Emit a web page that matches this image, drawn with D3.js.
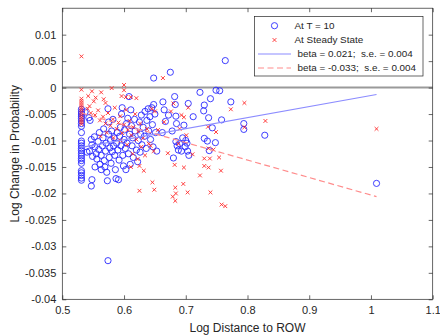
<!DOCTYPE html>
<html><head><meta charset="utf-8">
<script src="https://cdn.jsdelivr.net/npm/d3@7"></script>
<style>body{margin:0;background:#fff}svg{display:block;font-family:"Liberation Sans",Arial,sans-serif}</style>
</head><body><svg id="c" width="440" height="336"></svg>
<script>
const xTicks = [0.5,0.6,0.7,0.8,0.9,1,1.1];
const xTickLabels = ["0.5","0.6","0.7","0.8","0.9","1","1.1"];
const yTicks = [-0.04,-0.035,-0.03,-0.025,-0.02,-0.015,-0.01,-0.005,0,0.005,0.01];
const yTickLabels = ["-0.04","-0.035","-0.03","-0.025","-0.02","-0.015","-0.01","-0.005","0","0.005","0.01"];
const legendLabels = ["At T = 10","At Steady State","beta = 0.021;  s.e. = 0.004","beta = -0.033;  s.e. = 0.004"];

const t10 = [
[0.531,-0.0041],[0.531,-0.0046],[0.531,-0.0050],[0.531,-0.0054],[0.531,-0.0058],[0.531,-0.0063],[0.531,-0.0068],[0.531,-0.0073],[0.531,-0.0085],[0.531,-0.0101],[0.531,-0.0105],[0.531,-0.0110],[0.531,-0.0115],[0.531,-0.0119],[0.531,-0.0124],[0.531,-0.0129],[0.531,-0.0134],[0.531,-0.0138],[0.531,-0.0143],[0.531,-0.0157],[0.531,-0.0161],[0.531,-0.0166],[0.531,-0.0171],[0.531,-0.0175],
[0.537,-0.0046],[0.543,-0.0057],[0.545,-0.0062],[0.540,-0.0122],[0.544,-0.0120],[0.548,-0.0108],[0.547,-0.0098],[0.549,-0.0130],[0.552,-0.0093],[0.553,-0.0112],[0.555,-0.0125],[0.553,-0.0150],[0.548,-0.0174],[0.547,-0.0186],[0.556,-0.0135],[0.558,-0.0102],[0.560,-0.0085],[0.559,-0.0117],[0.561,-0.0145],[0.563,-0.0155],
[0.563,-0.0128],[0.565,-0.0110],[0.566,-0.0095],[0.567,-0.0078],[0.568,-0.0138],[0.569,-0.0150],[0.570,-0.0120],[0.571,-0.0105],[0.572,-0.0160],[0.573,-0.0176],[0.574,-0.0040],[0.575,-0.0065],[0.575,-0.0088],[0.576,-0.0132],[0.577,-0.0114],[0.578,-0.0100],[0.579,-0.0143],[0.580,-0.0082],[0.581,-0.0121],[0.582,-0.0060],[0.583,-0.0110],[0.584,-0.0095],[0.585,-0.0128],[0.586,-0.0155],[0.587,-0.0172],[0.588,-0.0105],[0.589,-0.0085],[0.590,-0.0118],[0.591,-0.0174],[0.592,-0.0137],
[0.593,-0.0092],[0.594,-0.0075],[0.595,-0.0110],[0.596,-0.0050],[0.597,-0.0038],[0.598,-0.0128],[0.599,-0.0148],[0.600,-0.0098],[0.601,-0.0080],[0.602,-0.0115],[0.603,-0.0155],[0.604,-0.0068],[0.605,-0.0105],[0.606,-0.0058],[0.607,-0.0125],[0.608,-0.0017],[0.609,-0.0088],[0.610,-0.0145],[0.611,-0.0042],[0.612,-0.0072],[0.613,-0.0110],[0.614,-0.0095],[0.615,-0.0132],[0.617,-0.0060],[0.618,-0.0082],[0.620,-0.0118],[0.622,-0.0140],[0.623,-0.0100],[0.625,-0.0065],[0.626,-0.0122],[0.627,-0.0088],[0.628,-0.0052],[0.629,-0.0108],
[0.631,-0.0075],[0.633,-0.0092],[0.634,-0.0045],[0.636,-0.0115],[0.637,-0.0062],[0.639,-0.0040],[0.640,-0.0082],[0.642,-0.0055],[0.643,-0.0098],[0.645,-0.0038],[0.646,-0.0070],[0.647,-0.0112],[0.648,0.0018],[0.648,-0.0032],[0.650,-0.0050],[0.651,-0.0085],[0.653,-0.0120],
[0.662,-0.0085],[0.663,-0.0027],[0.665,-0.0042],[0.667,-0.0064],[0.672,-0.0052],[0.675,0.0029],[0.678,-0.0082],[0.680,-0.0133],[0.682,-0.0017],[0.683,-0.0032],[0.684,-0.0054],[0.685,-0.0068],[0.684,-0.0102],[0.686,-0.0110],[0.688,-0.0118],[0.690,-0.0106],[0.693,-0.0120],[0.695,-0.0095],[0.697,-0.0071],[0.699,-0.0112],[0.700,-0.0100],[0.702,-0.0105],[0.703,-0.0120],[0.704,-0.0030],[0.705,-0.0128],[0.712,-0.0055],
[0.723,-0.0009],[0.729,-0.0044],[0.730,-0.0033],[0.730,-0.0096],[0.735,-0.0101],[0.737,-0.0057],[0.738,-0.0119],[0.740,-0.0021],[0.743,-0.0076],[0.748,-0.0104],[0.749,-0.0005],[0.755,-0.0006],[0.758,-0.0061],[0.764,0.0051],[0.773,-0.0027],[0.794,-0.0068],[0.794,-0.0079],[0.828,-0.0090],[1.009,-0.0181],[0.574,-0.0327]
];

const steady = [
[0.531,0.0059],[0.531,-0.0004],[0.531,-0.0021],[0.531,-0.0025],[0.531,-0.0029],[0.531,-0.0033],[0.531,-0.0037],[0.531,-0.0041],[0.531,-0.0045],[0.531,-0.0049],[0.531,-0.0053],[0.531,-0.0057],[0.531,-0.0061],[0.531,-0.0065],[0.531,-0.0069],
[0.542,-0.0016],[0.548,-0.0007],[0.554,-0.0019],[0.544,-0.0035],[0.551,-0.0026],[0.563,-0.0009],[0.567,-0.0022],[0.570,-0.0029],[0.580,-0.0001],[0.600,0.0005],[0.600,-0.0005],[0.596,-0.0016],[0.603,-0.0018],[0.611,-0.0018],[0.620,-0.0020],
[0.541,-0.0040],[0.546,-0.0048],[0.553,-0.0052],[0.558,-0.0043],[0.561,-0.0062],[0.566,-0.0055],[0.570,-0.0068],[0.574,-0.0048],[0.578,-0.0072],[0.582,-0.0060],[0.585,-0.0038],[0.588,-0.0078],[0.591,-0.0066],[0.594,-0.0054],[0.597,-0.0086],[0.600,-0.0070],[0.603,-0.0042],[0.606,-0.0080],[0.609,-0.0063],[0.612,-0.0090],[0.615,-0.0075],[0.618,-0.0050],[0.620,-0.0098],[0.623,-0.0083],[0.626,-0.0068],[0.628,-0.0112],[0.631,-0.0095],[0.634,-0.0128],[0.637,-0.0078],[0.640,-0.0106],[0.643,-0.0110],[0.645,-0.0040],[0.648,-0.0120],[0.650,-0.0045],
[0.562,-0.0092],[0.572,-0.0085],[0.583,-0.0095],[0.594,-0.0100],[0.605,-0.0108],[0.614,-0.0125],[0.622,-0.0135],[0.625,-0.0148],[0.611,-0.0150],[0.632,-0.0157],
[0.663,0.0018],[0.671,-0.0124],[0.676,-0.0045],[0.680,-0.0030],[0.690,-0.0078],[0.693,-0.0052],[0.697,-0.0056],[0.701,-0.0090],[0.704,-0.0038],[0.711,-0.0126],[0.682,-0.0146],[0.697,-0.0151],[0.723,-0.0166],[0.696,-0.0182],[0.646,-0.0179],[0.649,-0.0193],[0.625,-0.0195],[0.683,-0.0189],[0.679,-0.0206],[0.684,-0.0200],[0.683,-0.0214],[0.703,-0.0198],[0.740,-0.0198],[0.758,-0.0221],[0.764,-0.0224],
[0.730,-0.0148],[0.737,-0.0151],[0.757,-0.0157],[0.739,-0.0134],[0.730,-0.0134],[0.754,-0.0132],[0.737,-0.0115],[0.745,-0.0117],[0.736,-0.0074],[0.749,-0.0084],[0.773,-0.0041],[0.795,-0.0029],[0.795,-0.0075],[0.829,-0.0063],[1.009,-0.0078],[0.688,-0.0106],[0.665,-0.0065],[0.655,-0.0080]
];

const fitX = [0.531, 1.009];
const fitT10 = [-0.0113, -0.0013];
const fitSteady = [-0.0048, -0.0206];
const zeroX = [0.5, 1.1];
const zeroY = [0, 0];

const L = 62.3, R = 432.7, T = 8.2, B = 299.3;
const x = d3.scaleLinear().domain([0.5, 1.1]).range([L, R]);
const y = d3.scaleLinear().domain([-0.04, 0.015]).range([B, T]);
const svg = d3.select("#c");
const axCol = "#262626";

svg.append("path").attr("d", d3.line().x(d=>x(d[0])).y(d=>y(d[1]))(zeroX.map((v,i)=>[v, zeroY[i]])))
  .attr("stroke", "#9a9a9a").attr("stroke-width", 2).attr("fill", "none");

svg.append("g").selectAll("circle").data(t10).join("circle")
  .attr("cx", d=>x(d[0])).attr("cy", d=>y(d[1])).attr("r", 3.1)
  .attr("fill", "none").attr("stroke", "#2a2aff").attr("stroke-width", 0.9);

const cs = 1.9;
svg.append("g").selectAll("path").data(steady).join("path")
  .attr("d", d=>{const cx=x(d[0]), cy=y(d[1]); return `M${cx-cs},${cy-cs}L${cx+cs},${cy+cs}M${cx-cs},${cy+cs}L${cx+cs},${cy-cs}`;})
  .attr("stroke", "#ff2a2a").attr("stroke-width", 0.9).attr("fill", "none");

const line = d3.line().x(d=>x(d[0])).y(d=>y(d[1]));
svg.append("path").attr("d", line(fitX.map((v,i)=>[v, fitT10[i]])))
  .attr("stroke", "#8c8cff").attr("stroke-width", 1.2).attr("fill", "none");
svg.append("path").attr("d", line(fitX.map((v,i)=>[v, fitSteady[i]])))
  .attr("stroke", "#ff8c8c").attr("stroke-width", 1.2).attr("fill", "none").attr("stroke-dasharray", "6,3.5");

const ax = svg.append("g");
const tl = 4;
ax.append("g").attr("transform", `translate(0,${B})`).call(d3.axisBottom(x).tickValues(xTicks).tickSize(-tl).tickPadding(7).tickFormat((d,i)=>xTickLabels[i]));
ax.append("g").attr("transform", `translate(0,${T})`).call(d3.axisTop(x).tickValues(xTicks).tickSize(-tl).tickFormat(""));
ax.append("g").attr("transform", `translate(${L},0)`).call(d3.axisLeft(y).tickValues(yTicks).tickSize(-tl).tickPadding(6).tickFormat((d,i)=>yTickLabels[i]));
ax.append("g").attr("transform", `translate(${R},0)`).call(d3.axisRight(y).tickValues(yTicks).tickSize(-tl).tickFormat(""));
ax.selectAll(".domain").remove();
ax.selectAll("line").attr("stroke", axCol).attr("stroke-width", 0.7);
ax.selectAll("text").attr("fill", axCol).style("font-size", "11px").style("font-family", '"Liberation Sans",Arial,sans-serif');
svg.append("rect").attr("x", L).attr("y", T).attr("width", R-L).attr("height", B-T)
  .attr("fill", "none").attr("stroke", axCol).attr("stroke-width", 0.7);

svg.append("text").attr("x", (L+R)/2).attr("y", 332).attr("text-anchor", "middle")
  .attr("fill", axCol).style("font-size", "12px").text("Log Distance to ROW");
svg.append("text").attr("transform", `translate(18.5,${(T+B)/2}) rotate(-90)`).attr("text-anchor", "middle")
  .attr("fill", axCol).style("font-size", "12px").text("Log Change in Probability");

const lg = svg.append("g");
lg.append("rect").attr("x", 254.5).attr("y", 16.5).attr("width", 168.5).attr("height", 59.5)
  .attr("fill", "#fff").attr("stroke", axCol).attr("stroke-width", 0.7);
const rows = [25.7, 40, 54, 68];
lg.append("circle").attr("cx", 274.5).attr("cy", rows[0]).attr("r", 3.1).attr("fill", "none").attr("stroke", "#2a2aff").attr("stroke-width", 0.9);
lg.append("path").attr("d", `M${274.5-cs},${rows[1]-cs}L${274.5+cs},${rows[1]+cs}M${274.5-cs},${rows[1]+cs}L${274.5+cs},${rows[1]-cs}`).attr("stroke", "#ff2a2a").attr("stroke-width", 0.9);
lg.append("line").attr("x1", 258).attr("x2", 291).attr("y1", rows[2]).attr("y2", rows[2]).attr("stroke", "#8c8cff").attr("stroke-width", 1.2);
lg.append("line").attr("x1", 258).attr("x2", 291).attr("y1", rows[3]).attr("y2", rows[3]).attr("stroke", "#ff8c8c").attr("stroke-width", 1.2).attr("stroke-dasharray", "6,3.5");
const lx = [294.5, 294.5, 297.5, 297.5];
legendLabels.forEach((t,i)=>{
  lg.append("text").attr("x", lx[i]).attr("y", rows[i]).attr("dy", "0.35em").attr("fill", axCol)
    .style("font-size", "9.9px").style("white-space", "pre").attr("xml:space", "preserve").text(t);
});
</script></body></html>
